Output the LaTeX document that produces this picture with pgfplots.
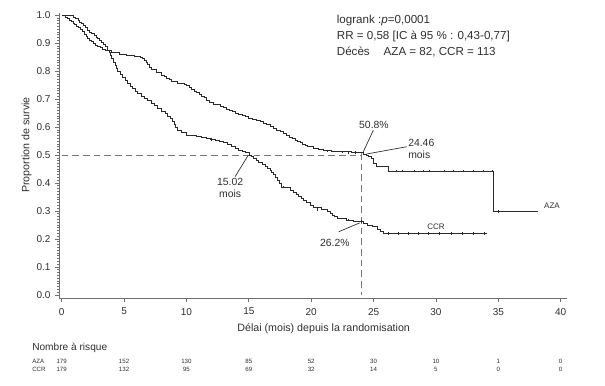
\documentclass[border=0pt]{standalone}
\usepackage{pgfplots}
\pgfplotsset{compat=1.18}
\usepackage{fontspec}
\setmainfont{Liberation Sans}
\definecolor{curve}{HTML}{2A2A2A}
\definecolor{axgray}{HTML}{707070}
\definecolor{refgray}{HTML}{777777}
\definecolor{txt}{HTML}{2F2F2F}
\begin{document}
\begin{tikzpicture}
\useasboundingbox (0,0) rectangle (453.75pt,288.75pt);
\begin{axis}[
  at={(44.4pt,65.2pt)}, anchor=south west,
  width=380.6pt, height=213.8pt, scale only axis,
  xmin=-0.2, xmax=40.48, ymin=-0.011, ymax=1.008,
  axis x line=bottom, axis y line=left,
  axis line style={-, axgray, line width=0.8pt},
  xtick={0,5,10,15,20,25,30,35,40},
  ytick={0,0.1,0.2,0.3,0.4,0.5,0.6,0.7,0.8,0.9,1.0},
  minor y tick num=9,
  tick align=outside,
  major tick length=3pt, minor tick length=1.6pt,
  tick style={axgray, line width=0.6pt},
  /pgf/number format/assume math mode=true,
  ticklabel style={font=\fontsize{7.5}{8}\selectfont, text=txt},
  yticklabel style={/pgf/number format/fixed, /pgf/number format/fixed zerofill, /pgf/number format/precision=1},
  xticklabel style={yshift=-1pt},
  clip=false,
]
% reference lines
\addplot[refgray, line width=0.7pt, dash pattern=on 5pt off 3pt] coordinates {(0,0.5) (24,0.5)};
\addplot[refgray, line width=0.7pt, dash pattern=on 5pt off 3pt] coordinates {(24,0.508) (24,0)};
% AZA
\addplot[const plot, curve, line width=0.6pt] coordinates {
(0,1.000) (0.3,0.994) (0.45,0.989) (0.6,0.983) (0.75,0.978) (0.9,0.972) (1.05,0.967) (1.2,0.961) (1.35,0.956) (1.5,0.950) (1.65,0.942) (1.8,0.933)
(1.95,0.925) (2.1,0.917) (2.25,0.911) (2.4,0.905) (2.55,0.899) (2.7,0.893) (2.9,0.888) (3.1,0.884) (3.3,0.879) (3.5,0.875) (4.0,0.866) (4.6,0.860)
(5.2,0.857) (5.8,0.854) (6.3,0.851) (6.45,0.846) (6.6,0.840) (6.75,0.833) (6.9,0.826) (7.05,0.815) (7.2,0.805) (7.6,0.795)
(8.0,0.786) (8.2,0.780) (8.4,0.775) (8.6,0.769) (8.8,0.763) (9.3,0.758) (9.8,0.754) (10.0,0.748) (10.2,0.742) (10.4,0.735) (10.6,0.728)
(10.8,0.723) (11.0,0.718) (11.2,0.711) (11.4,0.705) (11.6,0.697) (11.8,0.690) (12.2,0.682) (12.7,0.675) (12.95,0.669) (13.2,0.664)
(13.45,0.659) (13.7,0.655) (13.95,0.650) (14.2,0.645) (14.45,0.641) (14.7,0.637) (15.0,0.632) (15.3,0.628) (15.6,0.623) (15.9,0.619) (16.15,0.613) (16.4,0.608)
(16.7,0.602) (17.0,0.596) (17.25,0.589) (17.5,0.583) (17.75,0.577) (18.0,0.571) (18.25,0.565) (18.5,0.560) (18.7,0.554) (18.9,0.548) (19.1,0.544) (19.3,0.540)
(19.5,0.535) (19.7,0.530) (20.2,0.524) (20.6,0.521) (21.0,0.518) (21.6,0.514) (22.3,0.512) (23.2,0.510)
(24.0,0.508) (24.2,0.504) (24.4,0.500) (24.6,0.495) (24.8,0.490) (25.0,0.472) (25.2,0.458) (26.2,0.443)
(34.6,0.443) (34.6,0.298) (38.2,0.298)};
% CCR
\addplot[const plot, curve, line width=0.6pt] coordinates {
(0,1.000) (0.9,0.994) (1.1,0.988) (1.3,0.982) (1.45,0.976) (1.6,0.970) (1.75,0.962) (1.9,0.955) (2.05,0.947) (2.2,0.940) (2.4,0.934) (2.6,0.928)
(2.75,0.922) (2.9,0.917) (3.05,0.909) (3.2,0.902) (3.35,0.894) (3.5,0.887) (3.65,0.876) (3.8,0.866) (3.9,0.856) (4.0,0.845) (4.15,0.832) (4.3,0.820) (4.4,0.810) (4.5,0.800)
(4.7,0.789) (4.9,0.778) (5.1,0.767) (5.3,0.756) (5.5,0.747) (5.7,0.738) (5.9,0.729) (6.1,0.720) (6.35,0.711) (6.6,0.703) (6.9,0.694) (7.2,0.685) (7.45,0.676) (7.7,0.667)
(8.0,0.658) (8.3,0.649) (8.5,0.640) (8.7,0.630) (8.85,0.620) (9.0,0.610) (9.15,0.600) (9.3,0.590) (9.6,0.580) (10.0,0.572) (10.4,0.569) (10.8,0.566)
(11.2,0.563) (11.6,0.560) (11.95,0.556) (12.3,0.552) (12.65,0.549) (13.0,0.545) (13.3,0.538) (13.6,0.530) (13.9,0.524) (14.2,0.518) (14.45,0.513) (14.7,0.508)
(15.02,0.500) (15.2,0.494) (15.4,0.487) (15.6,0.481) (15.8,0.474) (16.05,0.467) (16.3,0.460) (16.5,0.453) (16.7,0.446) (16.85,0.438) (17.0,0.430)
(17.15,0.420) (17.3,0.410) (17.45,0.398) (17.6,0.385) (18.3,0.375) (18.55,0.367) (18.8,0.360) (19.0,0.352) (19.2,0.345) (19.4,0.338) (19.6,0.330)
(19.9,0.321) (20.2,0.312) (20.8,0.305) (21.3,0.298) (21.5,0.291) (21.7,0.285) (21.9,0.280) (22.1,0.274) (22.8,0.268)
(23.4,0.262) (24.2,0.256) (24.5,0.250) (24.9,0.244) (25.3,0.236) (25.55,0.228) (25.8,0.220)
(34.1,0.220)};
% censor marks
\addplot[only marks, mark=|, mark size=0.9pt, curve, mark options={line width=0.45pt}] coordinates {
(21.3,0.514) (22.5,0.512) (23.0,0.510) (23.5,0.510) (24.2,0.508) (26.8,0.443) (27.3,0.443)
(28.3,0.443) (29.0,0.443) (29.5,0.443) (30.7,0.443) (31.4,0.443) (32.2,0.443)
(33.0,0.443) (33.8,0.443) (34.5,0.443) (35.0,0.298)};
\addplot[only marks, mark=|, mark size=0.9pt, curve, mark options={line width=0.45pt}] coordinates {
(12.0,0.556) (17.8,0.385) (20.5,0.305) (23.0,0.268) (24.0,0.262) (26.2,0.220) (27.0,0.220) (27.8,0.220) (28.6,0.220)
(29.4,0.220) (30.3,0.220) (31.2,0.220) (32.1,0.220) (33.0,0.220) (33.9,0.220)};
% annotation lines
\draw[curve, line width=0.5pt] (24.18,0.512) -- (24.98,0.589);
\draw[curve, line width=0.5pt] (24.45,0.504) -- (27.66,0.530);
\draw[curve, line width=0.5pt] (14.96,0.500) -- (13.9,0.423);
\draw[curve, line width=0.5pt] (23.9,0.258) -- (22.2,0.226);
% annotations
\begin{scope}[every node/.style={text=txt, inner sep=0pt}]
\node[font=\fontsize{7.8}{8}\selectfont] at (25.03,0.607) {50.8\%};
\node[font=\fontsize{7.8}{9}\selectfont, anchor=west, align=left] at (27.76,0.521) {24.46\\mois};
\node[font=\fontsize{7.8}{9}\selectfont, align=center] at (13.5,0.382) {15.02\\mois};
\node[font=\fontsize{7.8}{8}\selectfont] at (21.9,0.186) {26.2\%};
\node[font=\fontsize{6}{7}\selectfont] at (30.0,0.243) {CCR};
\node[font=\fontsize{6}{7}\selectfont] at (39.3,0.318) {AZA};
\node[font=\fontsize{8.7}{9}\selectfont, anchor=west] at (22.04,0.982) {logrank :\textit{p}=0,0001};
\node[font=\fontsize{8.7}{9}\selectfont, anchor=west] at (22.04,0.925) {RR = 0,58 [IC à 95 \% : 0,43-0,77]};
\node[font=\fontsize{8.7}{9}\selectfont, anchor=west] at (22.04,0.868) {Décès\hspace{1.2em}AZA = 82, CCR = 113};
\node[font=\fontsize{8}{9}\selectfont, rotate=90] at (-2.82,0.536) {Proportion de survie};
\node[font=\fontsize{8}{9}\selectfont] at (21.0,-0.121) {Délai (mois) depuis la randomisation};
\node[font=\fontsize{7.6}{9}\selectfont, anchor=west] at (-2.38,-0.19) {Nombre à risque};
\node[font=\fontsize{4.6}{5}\selectfont, anchor=west] at (-2.38,-0.238) {AZA};
\node[font=\fontsize{4.6}{5}\selectfont, anchor=west] at (-2.38,-0.265) {CCR};
\node[font=\fontsize{4.6}{5}\selectfont] at (0,-0.238) {179};
\node[font=\fontsize{4.6}{5}\selectfont] at (5,-0.238) {152};
\node[font=\fontsize{4.6}{5}\selectfont] at (10,-0.238) {130};
\node[font=\fontsize{4.6}{5}\selectfont] at (15,-0.238) {85};
\node[font=\fontsize{4.6}{5}\selectfont] at (20,-0.238) {52};
\node[font=\fontsize{4.6}{5}\selectfont] at (25,-0.238) {30};
\node[font=\fontsize{4.6}{5}\selectfont] at (30,-0.238) {10};
\node[font=\fontsize{4.6}{5}\selectfont] at (35,-0.238) {1};
\node[font=\fontsize{4.6}{5}\selectfont] at (40,-0.238) {0};
\node[font=\fontsize{4.6}{5}\selectfont] at (0,-0.265) {179};
\node[font=\fontsize{4.6}{5}\selectfont] at (5,-0.265) {132};
\node[font=\fontsize{4.6}{5}\selectfont] at (10,-0.265) {95};
\node[font=\fontsize{4.6}{5}\selectfont] at (15,-0.265) {69};
\node[font=\fontsize{4.6}{5}\selectfont] at (20,-0.265) {32};
\node[font=\fontsize{4.6}{5}\selectfont] at (25,-0.265) {14};
\node[font=\fontsize{4.6}{5}\selectfont] at (30,-0.265) {5};
\node[font=\fontsize{4.6}{5}\selectfont] at (35,-0.265) {0};
\node[font=\fontsize{4.6}{5}\selectfont] at (40,-0.265) {0};
\end{scope}
\end{axis}
\end{tikzpicture}
\end{document}
